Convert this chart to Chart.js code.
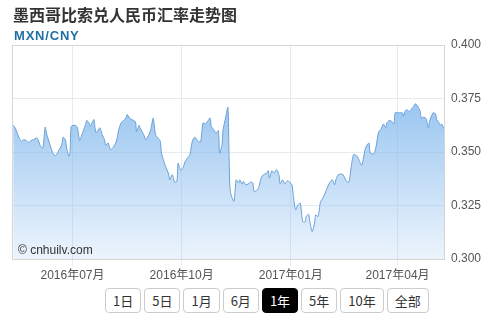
<!DOCTYPE html>
<html>
<head>
<meta charset="utf-8">
<script src="https://cdn.jsdelivr.net/npm/chart.js@4.4.0/dist/chart.umd.min.js"></script>
<style>
    body { margin: 0; background: #fff; font-family: "Liberation Sans", "Noto Sans CJK SC", sans-serif; }
    #wrap { position: relative; width: 500px; height: 320px; overflow: hidden; }
    #title { position: absolute; left: 13px; top: 4px; font-size: 16px; font-weight: bold; color: #333; font-family: "Noto Sans CJK SC", sans-serif; line-height: 20px; }
    #pair { position: absolute; left: 14px; top: 28px; font-size: 13px; font-weight: bold; color: #1f6fa6; letter-spacing: 0.8px; line-height: 15px; }
    #chartBox { position: absolute; left: 0; top: 0; width: 500px; height: 285px; }
    #mark { position: absolute; left: 18px; top: 243px; font-size: 12px; color: #333; pointer-events: none; }
    #ranges { position: absolute; top: 288px; left: 105px; display: flex; gap: 3px; }
    #ranges button { height: 25px; padding: 0 7px; font-size: 13px; border: 1px solid #ccc; border-radius: 4px; background: #fff; color: #333; font-family: "Noto Sans CJK SC", sans-serif; }
    #ranges button.on { background: #000; color: #fff; border-color: #000; }
</style>
</head>
<body>
<div id="wrap">
    <div id="chartBox"><canvas id="rateChart" width="500" height="285"></canvas></div>
    <div id="title">墨西哥比索兑人民币汇率走势图</div>
    <div id="pair">MXN/CNY</div>
    <div id="mark">© cnhuilv.com</div>
    <div id="ranges">
        <button>1日</button><button>5日</button><button>1月</button><button>6月</button>
        <button class="on">1年</button><button>5年</button><button>10年</button><button>全部</button>
    </div>
</div>
<script>
// day offsets from 2016-05-11
const days = [
    1, 3, 6, 8, 10, 12, 14, 16, 18, 21, 22, 24, 26, 28, 29, 32, 35, 37, 39, 42,
    43, 45, 46, 48, 49, 50, 53, 55, 57, 58, 60, 62, 63, 65, 66, 69, 70, 71, 74, 76,
    78, 79, 81, 83, 85, 88, 90, 92, 94, 96, 97, 99, 101, 104, 105, 107, 108, 111, 113, 114,
    116, 117, 119, 120, 121, 123, 125, 126, 128, 130, 132, 133, 135, 136, 137, 139, 140, 142, 144, 146,
    148, 150, 152, 154, 157, 159, 161, 163, 165, 167, 168, 170, 172, 174, 175, 177, 178, 180, 182, 183,
    184, 187, 188, 189, 191, 192, 194, 195, 197, 199, 201,
    203, 204, 206, 208, 210, 212, 215, 216, 217, 219, 221, 223, 225, 226, 228, 230, 232, 234, 236, 237,
    239, 241, 243, 245, 247, 248, 250, 251, 253, 255, 256, 258, 260, 262, 264, 265, 268, 270, 272, 273,
    275, 277, 279, 282, 284, 286, 288, 291, 293, 295, 296, 298, 300, 301, 302, 305, 307, 309, 311, 313,
    315, 316, 318, 320, 322, 323, 326, 329, 330, 331, 333, 335, 337, 338, 340, 342, 344, 345, 347, 349,
    351, 352, 355, 357, 358, 360, 361, 362, 364, 365
];
const rates = [
    0.3625, 0.3609, 0.3566, 0.3550, 0.3558, 0.3553, 0.3545, 0.3553, 0.3558, 0.3566, 0.3558, 0.3527, 0.3519, 0.3616, 0.3589, 0.3534, 0.3488, 0.3484, 0.3503, 0.3534,
    0.3569, 0.3558, 0.3519, 0.3480, 0.3503, 0.3620, 0.3625, 0.3616, 0.3553, 0.3566, 0.3597, 0.3628, 0.3647, 0.3636, 0.3620, 0.3652, 0.3613, 0.3589, 0.3613, 0.3581,
    0.3558, 0.3531, 0.3542, 0.3511, 0.3519, 0.3550, 0.3605, 0.3636, 0.3647, 0.3659, 0.3675, 0.3659, 0.3652, 0.3641, 0.3594, 0.3625, 0.3613, 0.3581, 0.3558, 0.3566,
    0.3589, 0.3605, 0.3659, 0.3620, 0.3581, 0.3566, 0.3550, 0.3495, 0.3456, 0.3425, 0.3397, 0.3370, 0.3394, 0.3381, 0.3359, 0.3363, 0.3448, 0.3417, 0.3425, 0.3456,
    0.3472, 0.3488, 0.3550, 0.3569, 0.3550, 0.3547, 0.3636, 0.3631, 0.3644, 0.3659, 0.3620, 0.3605, 0.3589, 0.3600, 0.3495, 0.3534, 0.3605, 0.3659, 0.3709, 0.3472,
    0.3316, 0.3269, 0.3316, 0.3370, 0.3355, 0.3370, 0.3350, 0.3363, 0.3347, 0.3350, 0.3359,
    0.3355, 0.3316, 0.3319, 0.3334, 0.3378, 0.3394, 0.3402, 0.3413, 0.3378, 0.3413, 0.3402, 0.3417, 0.3394, 0.3350, 0.3370, 0.3350, 0.3366, 0.3359, 0.3347, 0.3300,
    0.3230, 0.3253, 0.3261, 0.3175, 0.3172, 0.3198, 0.3209, 0.3178, 0.3128, 0.3167, 0.3206, 0.3198, 0.3266, 0.3284, 0.3308, 0.3323, 0.3359, 0.3370, 0.3347, 0.3370,
    0.3394, 0.3397, 0.3394, 0.3363, 0.3359, 0.3433, 0.3488, 0.3480, 0.3456, 0.3438, 0.3464, 0.3519, 0.3538, 0.3542, 0.3495, 0.3491, 0.3527, 0.3594, 0.3605, 0.3631,
    0.3613, 0.3636, 0.3647, 0.3644, 0.3631, 0.3683, 0.3683, 0.3683, 0.3667, 0.3688, 0.3698, 0.3688, 0.3703, 0.3709, 0.3725, 0.3714, 0.3691, 0.3659, 0.3663, 0.3656,
    0.3613, 0.3644, 0.3683, 0.3678, 0.3652, 0.3636, 0.3625, 0.3631, 0.3613, 0.3625
];

// x tick positions (day offsets) and their labels
const tickDays = [51, 143, 235, 325];
const tickLabels = ['2016年07月', '2016年10月', '2017年01月', '2017年04月'];

const yMin = 0.300;
const yMax = 0.400;
const yStep = 0.025;

// draws the frame round the plot area
const frame = {
    id: 'frame',
    afterDraw(chart) {
        const { ctx, chartArea: a } = chart;
        ctx.save();
        ctx.strokeStyle = '#d6d6d6';
        ctx.lineWidth = 1;
        ctx.strokeRect(a.left + 0.5, a.top + 0.5, a.right - a.left - 1, a.bottom - a.top);
        ctx.restore();
    }
};

function fillGradient(context) {
    const area = context.chart.chartArea;
    if (!area) return 'rgba(124,181,236,0.6)';
    const g = context.chart.ctx.createLinearGradient(0, area.top, 0, area.bottom);
    g.addColorStop(0, 'rgba(124,181,236,1)');
    g.addColorStop(1, 'rgba(124,181,236,0.14)');
    return g;
}

const ctx = document.getElementById('rateChart');
new Chart(ctx, {
    type: 'line',
    data: {
        datasets: [{
            data: days.map((d, i) => ({ x: d, y: rates[i] })),
            borderColor: '#6a9fd6',
            borderWidth: 1,
            backgroundColor: fillGradient,
            fill: 'start',
            pointRadius: 0,
            tension: 0.25
        }]
    },
    options: {
        responsive: false,
        animation: false,
        layout: { padding: { top: 45, left: 12, right: 0, bottom: 0 } },
        plugins: { legend: { display: false }, tooltip: { enabled: false } },
        scales: {
            x: {
                type: 'linear',
                min: 0,
                max: 365,
                afterBuildTicks: scale => { scale.ticks = tickDays.map(v => ({ value: v })); },
                afterFit: scale => { scale.height = 26; },
                ticks: {
                    autoSkip: false,
                    maxRotation: 0,
                    padding: 2,
                    color: '#555',
                    font: { size: 12, family: '"Liberation Sans", "Noto Sans CJK SC"' },
                    callback: v => tickLabels[tickDays.indexOf(v)]
                },
                grid: { color: '#e6ebf2', tickLength: 7, tickColor: '#e6ebf2' },
                border: { display: false }
            },
            y: {
                position: 'right',
                min: yMin,
                max: yMax,
                afterFit: scale => { scale.width = 55; },
                ticks: {
                    stepSize: yStep,
                    padding: 6,
                    color: '#555',
                    font: { size: 12, family: '"Liberation Sans"' },
                    callback: v => v.toFixed(3)
                },
                grid: { color: '#e6ebf2', drawTicks: false },
                border: { display: false }
            }
        }
    },
    plugins: [frame]
});
</script>
</body>
</html>
